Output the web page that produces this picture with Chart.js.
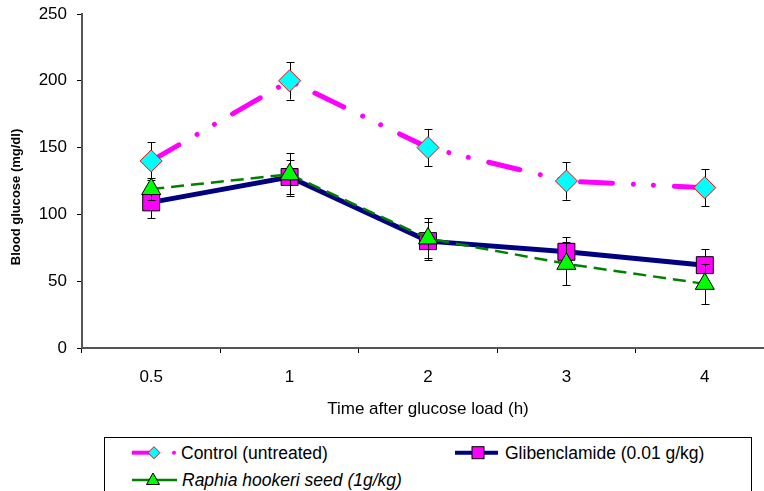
<!DOCTYPE html>
<html>
<head>
<meta charset="utf-8">
<script src="https://cdn.jsdelivr.net/npm/chart.js@4.4.0/dist/chart.umd.min.js"></script>
<style>
  html, body { margin: 0; padding: 0; overflow: hidden; background: #fff; }
  #myChart { position: absolute; left: 0; top: 0; }
  #legend {
    position: absolute; left: 104px; top: 437px; width: 648px; height: 70px;
    border: 1px solid #000; box-sizing: border-box; background: #fff;
    font-family: "Liberation Sans", Arial, sans-serif; font-size: 17.5px; color: #000;
  }
  #legend svg { position: absolute; left: -1px; top: -1px; }
  #legend .txt { position: absolute; height: 20px; line-height: 20px; white-space: nowrap; }
</style>
</head>
<body>
<canvas id="myChart" width="774" height="491"></canvas>
<div id="legend">
  <svg width="648" height="70">
    <line x1="28" y1="15.7" x2="48" y2="15.7" stroke="#ff00ff" stroke-width="4"/>
    <polygon points="44,15.7 50,9.7 56,15.7 50,21.7" fill="#00ffff" stroke="#ff0000" stroke-width="1"/>
    <circle cx="70" cy="15.7" r="2" fill="#ff00ff"/>
    <line x1="351" y1="15.7" x2="394" y2="15.7" stroke="#000080" stroke-width="4"/>
    <rect x="368" y="9.7" width="12" height="12" fill="#ff00ff" stroke="#000" stroke-width="1"/>
    <line x1="28" y1="43" x2="73" y2="43" stroke="#008000" stroke-width="2.5"/>
    <polygon points="49,36 55.5,47.5 42.5,47.5" fill="#00ff00" stroke="#000" stroke-width="1"/>
  </svg>
  <div class="txt" style="left:76px; top:5px;">Control (untreated)</div>
  <div class="txt" style="left:400px; top:5px;">Glibenclamide (0.01 g/kg)</div>
  <div class="txt" style="left:77px; top:32px;"><i>Raphia hookeri seed (1g/kg)</i></div>
</div>
<script>
// time points (h)
var times = ['0.5', '1', '2', '3', '4'];

// mean blood glucose (mg/dl)
var control = [140, 200, 150, 125, 120];
var glibenclamide = [109, 128, 80, 72, 62];
var raphia = [119, 130, 82, 63, 48];

// error (+/-)
var controlErr = [14, 14, 14, 14, 14];
var glibenclamideErr = [12, 13, 14, 11, 12];
var raphiaErr = [8, 16, 15, 16, 15];

var errors = [controlErr, glibenclamideErr, raphiaErr];

// big markers would otherwise pull the plot's right edge in
Chart.LineController.prototype.getMaxOverflow = function () { return 0; };

// error bars, drawn just before each dataset so its markers sit on top
var errorBars = {
  id: 'errorBars',
  beforeDatasetDraw: function (chart, args) {
    var ctx = chart.ctx;
    var yScale = chart.scales.y;
    var ds = chart.data.datasets[args.index];
    var err = errors[args.index];
    ctx.save();
    ctx.strokeStyle = '#000';
    ctx.lineWidth = 1;
    args.meta.data.forEach(function (pt, i) {
      var v = ds.data[i];
      var top = yScale.getPixelForValue(v + err[i]);
      var bot = yScale.getPixelForValue(v - err[i]);
      var x = Math.round(pt.x) + 0.5;
      ctx.beginPath();
      ctx.moveTo(x, top); ctx.lineTo(x, bot);
      ctx.moveTo(x - 4, Math.round(top) + 0.5); ctx.lineTo(x + 4, Math.round(top) + 0.5);
      ctx.moveTo(x - 4, Math.round(bot) + 0.5); ctx.lineTo(x + 4, Math.round(bot) + 0.5);
      ctx.stroke();
    });
    ctx.restore();
  }
};

// y axis title sits a little below the middle of the axis
var yTitle = {
  id: 'yTitle',
  afterDraw: function (chart) {
    var ctx = chart.ctx;
    ctx.save();
    ctx.translate(16, 197);
    ctx.rotate(-Math.PI / 2);
    ctx.font = 'bold 13px "Liberation Sans", Arial, sans-serif';
    ctx.fillStyle = '#000';
    ctx.textAlign = 'center';
    ctx.textBaseline = 'middle';
    ctx.fillText('Blood glucose (mg/dl)', 0, 0);
    ctx.restore();
  }
};

var data = {
  labels: times,
  datasets: [{
    label: 'Control (untreated)',
    data: control,
    borderColor: '#ff00ff',
    borderWidth: 5,
    borderDash: [32, 21, 0.01, 20, 0.01, 21],
    borderCapStyle: 'round',
    pointStyle: 'rectRot',
    pointRadius: 11,
    pointBackgroundColor: '#00ffff',
    pointBorderColor: '#ff0000',
    pointBorderWidth: 1,
    order: 2
  },
  {
    label: 'Glibenclamide (0.01 g/kg)',
    data: glibenclamide,
    borderColor: '#000080',
    borderWidth: 5,
    pointStyle: 'rect',
    pointRadius: 12,
    pointBackgroundColor: '#ff00ff',
    pointBorderColor: '#000',
    pointBorderWidth: 1,
    order: 1
  },
  {
    label: 'Raphia hookeri seed (1g/kg)',
    data: raphia,
    borderColor: '#008000',
    borderWidth: 2.5,
    borderDash: [13, 7],
    pointStyle: 'triangle',
    pointRadius: 11,
    pointBackgroundColor: '#00ff00',
    pointBorderColor: '#000',
    pointBorderWidth: 1,
    order: 0
  }]
};

var tickFont = { family: '"Liberation Sans", Arial, sans-serif', size: 17 };

var ctx = document.getElementById('myChart').getContext('2d');
var myChart = new Chart(ctx, {
  type: 'line',
  data: data,
  plugins: [errorBars, yTitle],
  options: {
    responsive: false,
    animation: false,
    devicePixelRatio: 1,
    layout: { padding: { top: 14, right: 0, bottom: 63, left: 0 } },
    plugins: {
      legend: { display: false },
      tooltip: { enabled: false }
    },
    elements: { line: { tension: 0 } },
    scales: {
      x: {
        offset: true,
        grid: { offset: true, drawOnChartArea: false, tickLength: 5, color: '#000' },
        border: { color: '#555', width: 2 },
        ticks: { color: '#000', font: tickFont, padding: 14, maxRotation: 0 },
        title: {
          display: true,
          text: 'Time after glucose load (h)',
          color: '#000',
          font: tickFont,
          padding: { top: 0, bottom: 8 }
        },
        afterFit: function (scale) {
          scale.height = 80;
          scale.paddingLeft = 0;
          scale.paddingRight = 0;
        }
      },
      y: {
        min: 0,
        max: 250,
        ticks: { stepSize: 50, color: '#000', font: tickFont, padding: 10 },
        grid: { drawOnChartArea: false, tickLength: 5, color: '#000' },
        border: { color: '#555', width: 2 },
        afterFit: function (scale) {
          scale.width = 82;
          scale.paddingTop = 0;
          scale.paddingBottom = 0;
        }
      }
    }
  }
});
</script>
</body>
</html>
